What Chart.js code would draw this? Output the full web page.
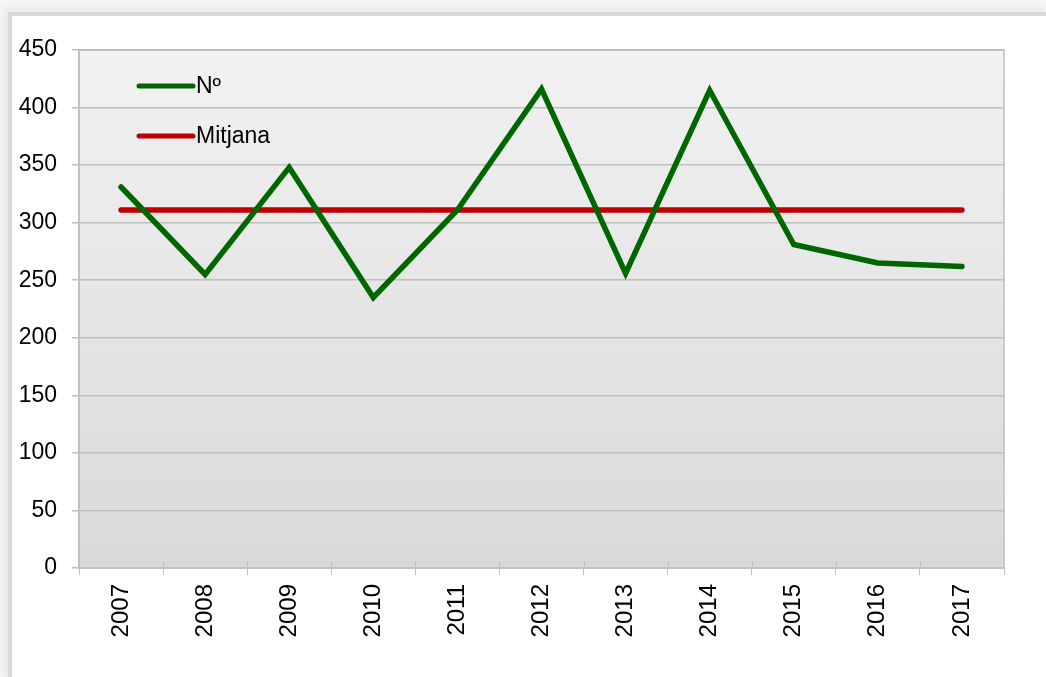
<!DOCTYPE html>
<html>
<head>
<meta charset="utf-8">
<script src="https://cdn.jsdelivr.net/npm/chart.js"></script>
<style>
  html, body { margin: 0; padding: 0; width: 1046px; height: 677px; background: #f6f6f6; overflow: hidden; }
  #wrap {
    position: absolute; left: 12px; top: 16px; width: 1040px; height: 670px;
    background: #ffffff;
    box-shadow: -4px -4px 0 #d9d9d9, -9px -9px 5px #ebebeb;
  }
  #c { position: absolute; left: 0; top: 0; }
</style>
</head>
<body>
<div id="wrap"></div>
<canvas id="c" width="1046" height="677"></canvas>
<script>
// data
const years = ['2007', '2008', '2009', '2010', '2011', '2012', '2013', '2014', '2015', '2016', '2017'];
const numValues = [331, 255, 348, 235, 311, 416, 256, 415, 281, 265, 262];
const mitjanaValues = [311, 311, 311, 311, 311, 311, 311, 311, 311, 311, 311];
const seriesNames = ['Nº', 'Mitjana'];
const seriesColors = ['#006600', '#c00000'];

const gridColor = '#bfbfbf';
const fontFamily = '"Liberation Sans", Arial, sans-serif';

// plot background gradient + border + crossing x ticks
const plotFrame = {
  id: 'plotFrame',
  beforeDraw(chart) {
    const { ctx, chartArea: a } = chart;
    const g = ctx.createLinearGradient(0, a.top, 0, a.bottom);
    g.addColorStop(0, '#f2f2f2');
    g.addColorStop(1, '#d9d9d9');
    ctx.save();
    ctx.fillStyle = g;
    ctx.fillRect(a.left, a.top, a.right - a.left, a.bottom - a.top);
    ctx.restore();
  },
  afterDraw(chart) {
    const { ctx, chartArea: a } = chart;
    const x = chart.scales.x;
    ctx.save();
    ctx.strokeStyle = gridColor;
    ctx.lineWidth = 1.5;
    ctx.strokeRect(a.left, a.top, a.right - a.left, a.bottom - a.top);
    ctx.lineWidth = 1;
    for (let i = 1; i < years.length; i++) {
      const px = Math.round((x.getPixelForTick(i - 1) + x.getPixelForTick(i)) / 2) + 0.5;
      ctx.beginPath();
      ctx.moveTo(px, a.bottom - 7);
      ctx.lineTo(px, a.bottom);
      ctx.stroke();
    }
    ctx.restore();
  }
};

// legend drawn inside the plot, top-left
const innerLegend = {
  id: 'innerLegend',
  afterDatasetsDraw(chart) {
    const { ctx, chartArea: a } = chart;
    ctx.save();
    ctx.font = '23px ' + fontFamily;
    ctx.textBaseline = 'middle';
    chart.data.datasets.forEach((ds, i) => {
      const y = a.top + 36 + i * 50;
      const x0 = a.left + 60;
      ctx.strokeStyle = ds.borderColor;
      ctx.lineWidth = 5;
      ctx.lineCap = 'round';
      ctx.beginPath();
      ctx.moveTo(x0, y);
      ctx.lineTo(x0 + 54, y);
      ctx.stroke();
      ctx.fillStyle = '#000';
      ctx.fillText(ds.label, x0 + 57, y + 1);
    });
    ctx.restore();
  }
};

new Chart(document.getElementById('c').getContext('2d'), {
  type: 'line',
  data: {
    labels: years,
    datasets: [
      {
        label: seriesNames[0],
        data: numValues,
        borderColor: seriesColors[0],
        backgroundColor: seriesColors[0],
        borderWidth: 5.5,
        pointRadius: 0,
        borderCapStyle: 'round',
        borderJoinStyle: 'miter',
        tension: 0
      },
      {
        label: seriesNames[1],
        data: mitjanaValues,
        borderColor: seriesColors[1],
        backgroundColor: seriesColors[1],
        borderWidth: 5.5,
        pointRadius: 0,
        borderCapStyle: 'round',
        tension: 0
      }
    ]
  },
  options: {
    responsive: false,
    animation: false,
    layout: { padding: { left: 12, right: 42, top: 50, bottom: 0 } },
    plugins: {
      legend: { display: false },
      tooltip: { enabled: false }
    },
    scales: {
      x: {
        type: 'category',
        offset: true,
        grid: {
          offset: true,
          drawOnChartArea: false,
          color: gridColor,
          tickLength: 7
        },
        border: { color: gridColor, width: 1.5 },
        ticks: {
          minRotation: 90,
          maxRotation: 90,
          autoSkip: false,
          padding: 9,
          color: '#000',
          font: { family: fontFamily, size: 24 }
        },
        afterFit(scale) { scale.height = 109; }
      },
      y: {
        min: 0,
        max: 450,
        grid: {
          color: gridColor,
          lineWidth: 1.5,
          tickLength: 7
        },
        border: { color: gridColor, width: 1.5 },
        ticks: {
          stepSize: 50,
          padding: 15,
          color: '#000',
          font: { family: fontFamily, size: 23 }
        },
        afterFit(scale) { scale.width = 67; }
      }
    }
  },
  plugins: [plotFrame, innerLegend]
});
</script>
</body>
</html>
